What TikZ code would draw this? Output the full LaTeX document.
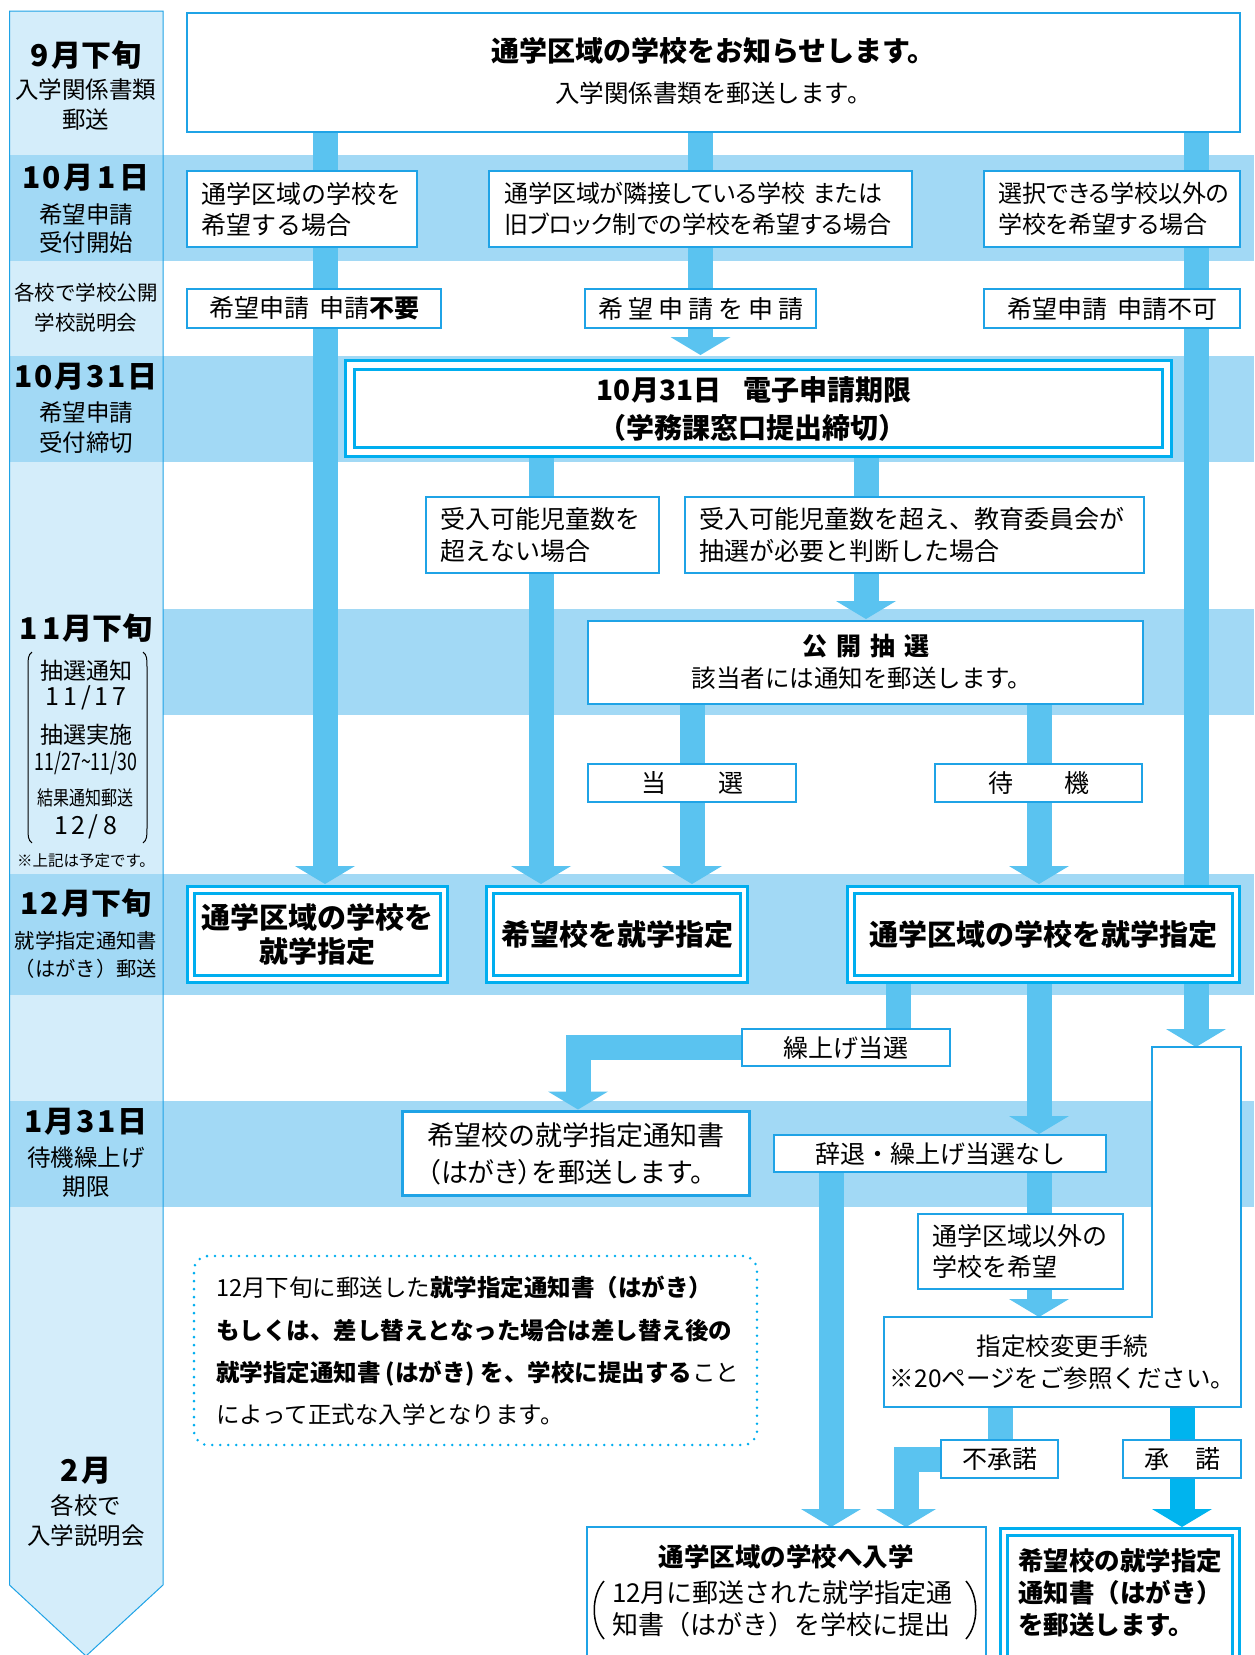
\documentclass[tikz,border=0pt]{standalone}
\usepackage{fontspec}
\usepackage{graphicx}
\setmainfont{Noto Sans CJK JP}
\newfontfamily\jpp{Noto Sans CJK JP}[RawFeature=+palt]
\usetikzlibrary{arrows.meta}
\definecolor{colfill}{HTML}{D4EDFA}
\definecolor{bandc}{HTML}{A2D9F5}
\definecolor{shaftc}{HTML}{5AC3F0}
\definecolor{bordc}{HTML}{1FA3E6}
\definecolor{cyanb}{HTML}{00AEEF}
\definecolor{deepc}{HTML}{00B4EE}
\newcommand\fsz[2]{\fontsize{#1}{#2}\selectfont}
\pgfdeclarelayer{back}
\pgfdeclarelayer{mid}
\pgfsetlayers{back,mid,main}
\begin{document}
\begin{tikzpicture}[x=1pt,y=-1pt,
  every node/.style={inner sep=0pt,outer sep=0pt},
  box/.style={draw=bordc,line width=1.3pt,fill=white,rectangle},
  dbox/.style={draw=cyanb,line width=3pt,double=white,double distance=4pt,fill=white,rectangle},
  shaft/.style={draw=shaftc,line width=25pt,line join=miter,-{Triangle[width=60pt,length=18pt,line width=0pt]}},
  datelab/.style={font=\fsz{30}{34}\bfseries},
  dotbox/.style={draw=cyanb,line width=2.8pt,line cap=round,dash pattern=on 0pt off 8pt,rounded corners=14pt,rectangle},
]
\useasboundingbox (0,0) rectangle (1254,1655);

\begin{pgfonlayer}{back}
\fill[white] (0,0) rectangle (1254,1655);
\fill[colfill] (9.5,11) -- (163,11) -- (163,1585) -- (86,1656) -- (9.5,1585) -- cycle;
\fill[bandc] (9.5,155) rectangle (1254,261);
\fill[bandc] (9.5,356) rectangle (1254,462);
\fill[bandc] (163,609) rectangle (1254,715);
\fill[bandc] (9.5,874) rectangle (1254,995);
\fill[bandc] (9.5,1101) rectangle (1254,1207);
\draw[bordc,line width=1pt] (9.5,11) -- (163,11) -- (163,1585) -- (86,1656) -- (9.5,1585) -- cycle;
\end{pgfonlayer}

% ---------- left column texts ----------
\node[datelab] (t9) at (86,55) {9\kern2pt 月下旬};
\node[font=\fsz{23.5}{30},align=center] (t9s) at (86,105) {入学関係書類\\郵送};
\node[datelab] (t101) at (86,178) {1\kern2pt 0\kern2pt 月\kern4pt 1\kern4pt 日};
\node[font=\fsz{23.5}{28},align=center] (t101s) at (86,229) {希望申請\\受付開始};
\node[font=\fsz{20.5}{30},align=center] (tks) at (86,308) {各校で学校公開\\学校説明会};
\node[datelab] (t1031) at (86,377) {1\kern2pt 0\kern2pt 月\kern2pt 3\kern2pt 1\kern2pt 日};
\node[font=\fsz{23.5}{30},align=center] (t1031s) at (86,428) {希望申請\\受付締切};
\node[datelab] (t11) at (86,628) {1\kern5pt 1\kern2pt 月下旬};
\node[font=\fsz{23}{28}] (t11a) at (86,671) {抽選通知};
\node[font=\fsz{25}{28}] (t11b) at (86,698) {1\kern4pt 1\kern4pt /\kern4pt 1\kern4pt 7};
\node[font=\fsz{23}{28}] (t11c) at (86,735) {抽選実施};
\node[font=\fsz{24}{28}] (t11d) at (86,763) {\scalebox{0.74}[1]{11/27\textasciitilde 11/30}};
\node[font=\fsz{20}{28}] (t11e) at (86,798) {\scalebox{0.8}[1]{結果通知郵送}};
\node[font=\fsz{25}{28}] (t11f) at (86,827) {1\kern3pt 2\kern3pt /\kern6pt 8};
\node[font=\fsz{15.5}{18}] (t11g) at (86,861) {※上記は予定です。};
\draw[line width=1pt] (32,652) .. controls (28,655) and (28,659) .. (28,667) -- (28,828) .. controls (28,836) and (28,840) .. (32,843);
\draw[line width=1pt] (143,652) .. controls (147,655) and (147,659) .. (147,667) -- (147,828) .. controls (147,836) and (147,840) .. (143,843);
\node[datelab] (t12) at (86,903) {1\kern2pt 2\kern2pt 月下旬};
\node[font=\fsz{20.3}{28},align=center] (t12s) at (86,955) {就学指定通知書\\（はがき）郵送};
\node[datelab] (t131) at (86,1122) {1\kern2pt 月\kern2pt 3\kern2pt 1\kern2pt 日};
\node[font=\fsz{23.5}{29},align=center] (t131s) at (86,1172) {待機繰上げ\\期限};
\node[datelab] (t2) at (86,1471) {2\kern2pt 月};
\node[font=\fsz{23.5}{30},align=center] (t2s) at (86,1521) {各校で\\入学説明会};

% ---------- main boxes ----------
\node[box,line width=2.5pt,minimum width=1053pt,minimum height=119pt] (top) at (713.5,72.5) {};
\node[font=\fsz{28}{34}\bfseries] (topt) at (713.5,51) {通学区域の学校をお知らせします。};
\node[font=\fsz{24.5}{30}] (tops) at (713.5,93) {入学関係書類を郵送します。};

\node[box,minimum width=230pt,minimum height=76pt,text width=202pt,align=left,font=\fsz{25}{31}] (c1) at (302,209) {通学区域の学校を\\希望する場合};
\node[box,minimum width=423pt,minimum height=76pt,text width=393pt,align=left,font={\jpp\fsz{24}{31}}] (c2) at (700.5,209) {通学区域が隣接している学校 または\\旧ブロック制での学校を希望する場合};
\node[box,minimum width=256pt,minimum height=76pt,text width=228pt,align=left,font={\jpp\fsz{24}{31}}] (c3) at (1112,209) {選択できる学校以外の\\学校を希望する場合};

\node[box,minimum width=254pt,minimum height=39pt,font=\fsz{25}{30}] (r1) at (314,308.5) {希望申請\hspace{10pt}申請\textbf{不要}};
\node[box,minimum width=231pt,minimum height=39pt,font=\fsz{25}{30}] (r2) at (700.5,308.5) {希\kern5pt 望\kern5pt 申\kern5pt 請\kern5pt を\kern5pt 申\kern5pt 請};
\node[box,minimum width=256pt,minimum height=39pt,font=\fsz{25}{30}] (r3) at (1112,308.5) {希望申請\hspace{10pt}申請不可};

\node[dbox,line width=2.8pt,double distance=6pt,minimum width=817pt,minimum height=87pt] (d31) at (758.5,408.5) {};
\node[font=\fsz{28}{34}\bfseries] (d31a) at (754,390) {10月31日\hspace{22pt}電子申請期限};
\node[font=\fsz{28}{34}\bfseries] (d31b) at (752,428) {（学務課窓口提出締切）};

\node[box,minimum width=233pt,minimum height=76pt,text width=205pt,align=left,font=\fsz{25}{32}] (u1) at (542.5,535) {受入可能児童数を\\超えない場合};
\node[box,minimum width=459pt,minimum height=76pt,text width=431pt,align=left,font=\fsz{25}{32}] (u2) at (914.5,535) {受入可能児童数を超え、教育委員会が\\抽選が必要と判断した場合};

\node[box,minimum width=555pt,minimum height=83pt] (lot) at (865.5,662.5) {};
\node[font=\fsz{25}{30}\bfseries] (lota) at (866,646) {公\hspace{9pt}開\hspace{9pt}抽\hspace{9pt}選};
\node[font=\fsz{24.5}{30}] (lotb) at (862,678) {該当者には通知を郵送します。};

\node[box,minimum width=208pt,minimum height=38pt,font=\fsz{25}{30}] (win) at (692,783) {当\hspace{52pt}選};
\node[box,minimum width=207pt,minimum height=38pt,font=\fsz{25}{30}] (wait) at (1038.5,783) {待\hspace{51pt}機};

\node[dbox,minimum width=253pt,minimum height=89pt,align=center,font=\fsz{29}{34}\bfseries] (dL) at (317.5,934.5) {通学区域の学校を\\就学指定};
\node[dbox,minimum width=254pt,minimum height=89pt,font=\fsz{29}{34}\bfseries] (dM) at (617,934.5) {希望校を就学指定};
\node[dbox,minimum width=385pt,minimum height=89pt,font=\fsz{29}{34}\bfseries] (dR) at (1043.5,934.5) {通学区域の学校を就学指定};

\node[box,minimum width=208pt,minimum height=37pt,font=\fsz{25}{30}] (kuri) at (846,1047.5) {繰上げ当選};
\node[box,line width=3pt,minimum width=347pt,minimum height=84pt] (kib) at (576,1153.5) {};
\node[font=\fsz{27}{37},align=left] (kibt) at (576,1153.5) {希望校の就学指定通知書\\{\jpp （はがき）}を郵送します。};
\node[box,minimum width=332pt,minimum height=37pt,font=\fsz{25}{30}] (jitai) at (940,1153.5) {辞退・繰上げ当選なし};
\node[box,minimum width=205pt,minimum height=75pt,text width=177pt,align=left,font=\fsz{25}{31}] (igai) at (1020.5,1251.5) {通学区域以外の\\学校を希望};

\draw[draw=bordc,line width=1.3pt,fill=white] (1152,1047) -- (1241,1047) -- (1241,1407) -- (884,1407) -- (884,1317) -- (1152,1317) -- cycle;
\node[minimum width=357pt,minimum height=90pt,align=center,font=\fsz{24.5}{32}] (henko) at (1062.5,1362) {指定校変更手続\\※20ページをご参照ください。};
\coordinate (hktop) at (1196,1047);

\node[box,minimum width=117pt,minimum height=38pt,font=\fsz{25}{30}] (fush) at (999.5,1459) {不承諾};
\node[box,minimum width=118pt,minimum height=38pt,font=\fsz{25}{30}] (shou) at (1182,1459) {承\hspace{26pt}諾};

\node[box,line width=2.5pt,minimum width=399pt,minimum height=140pt] (nyu) at (786.5,1597) {};
\node[font=\fsz{25.5}{32}\bfseries] (nyua) at (786,1557) {通学区域の学校へ入学};
\node[font=\fsz{26}{32},align=left,anchor=west] (nyub) at (612,1609) {12月に郵送された就学指定通\\知書（はがき）を学校に提出};
\draw[line width=1.5pt] (604,1581) .. controls (591,1596) and (591,1624) .. (604,1639);
\draw[line width=1.5pt] (966,1581) .. controls (979,1596) and (979,1624) .. (966,1639);

\node[dbox,minimum width=232pt,minimum height=150pt] (kibo2) at (1120,1607) {};
\node[font=\fsz{25.5}{32}\bfseries,align=left,anchor=west] (kibo2t) at (1018,1593) {希望校の就学指定\\通知書（はがき）\\を郵送します。};

\node[dotbox,minimum width=563pt,minimum height=189pt] (note) at (475.5,1350.5) {};
\node[font=\fsz{23.5}{42.3},align=left,anchor=west] (notet) at (216,1351) {12月下旬に郵送した\textbf{就学指定通知書（はがき）}\\\textbf{もしくは、差し替えとなった場合は差し替え後の}\\\textbf{就学指定通知書 (はがき) を、学校に提出する}こと\\によって正式な入学となります。};

% ---------- connectors ----------
\coordinate (xA) at (325,0);
\coordinate (xB) at (700.5,0);
\coordinate (xC) at (1196,0);
\coordinate (xD) at (541,0);
\coordinate (xE) at (866,0);
\coordinate (xF) at (692,0);
\coordinate (xG) at (1039,0);
\coordinate (xH) at (898,0);
\coordinate (xH2) at (578,0);
\coordinate (xK) at (831,0);
\coordinate (xL) at (1000,0);
\coordinate (xL2) at (906,0);
\coordinate (xM) at (1182,0);
\begin{pgfonlayer}{mid}
\draw[shaft,shorten >=6pt] (xA |- top.south) -- (xA |- dL.north);
\draw[shaft,shorten >=10pt] (xB |- top.south) -- (xB |- d31.north);
\draw[shaft] (xC |- top.south) -- (hktop);
\draw[shaft,shorten >=6pt] (xD |- d31.south) -- (xD |- dM.north);
\draw[shaft,shorten >=2pt] (xE |- d31.south) -- (xE |- lot.north);
\draw[shaft,shorten >=6pt] (xF |- lot.south) -- (xF |- dM.north);
\draw[shaft,shorten >=6pt] (xG |- lot.south) -- (xG |- dR.north);
\draw[shaft,shorten >=2pt] (xH |- dR.south) -- (xH |- kuri.center) -- (xH2 |- kuri.center) -- (xH2 |- kib.north);
\draw[shaft,shorten >=1pt] (xG |- dR.south) -- (xG |- jitai.north);
\draw[shaft] (xG |- jitai.south) -- (xG |- henko.north);
\draw[shaft] (xK |- jitai.south) -- (xK |- nyu.north);
\draw[shaft] (xL |- henko.south) -- (xL |- fush.center) -- (xL2 |- fush.center) -- (xL2 |- nyu.north);
\draw[shaft,draw=deepc,shorten >=5pt] (xM |- henko.south) -- (xM |- kibo2.north);
\end{pgfonlayer}
\end{tikzpicture}
\end{document}
